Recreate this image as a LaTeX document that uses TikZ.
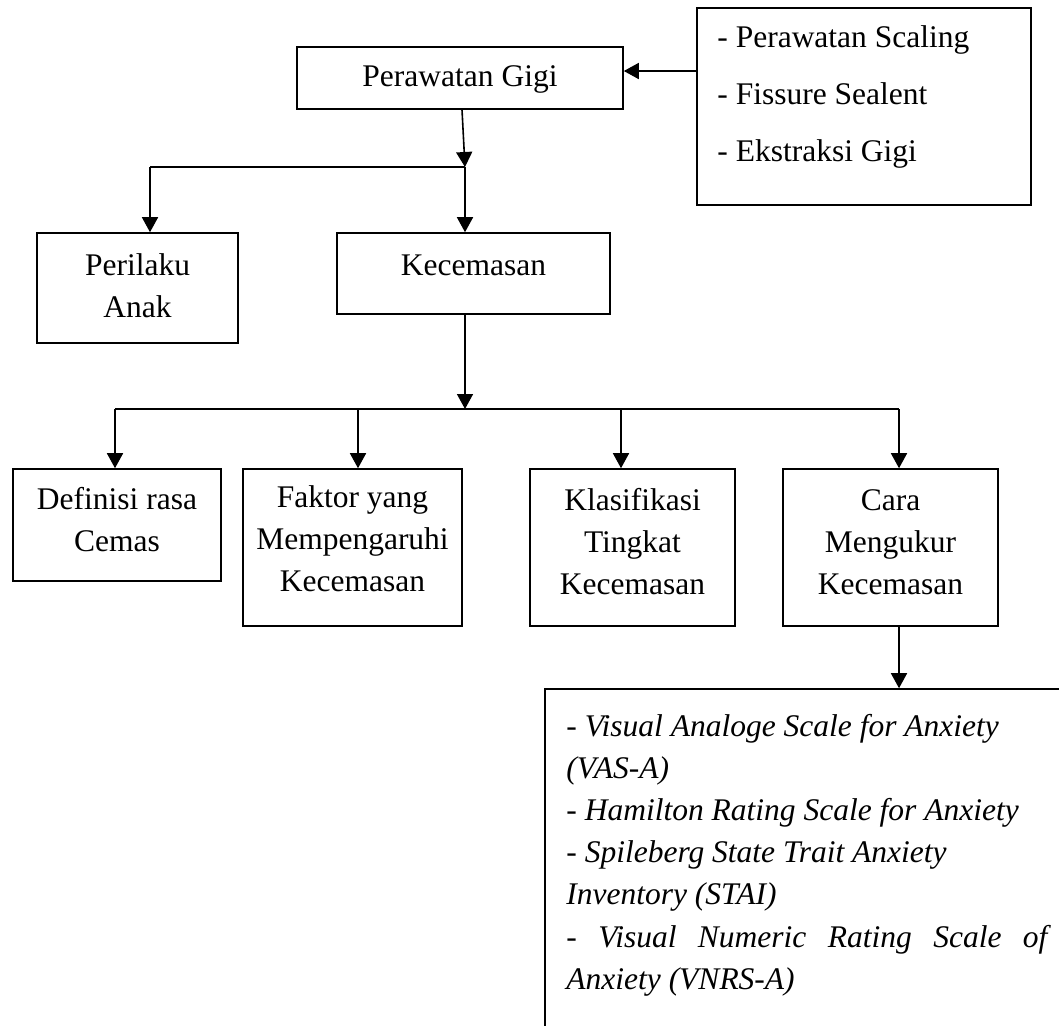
\documentclass[tikz,border=0pt]{standalone}
\usepackage{fontspec}
\setmainfont{Liberation Serif}
\usetikzlibrary{arrows.meta}

\tikzset{
  box/.style={draw, rectangle, line width=0.8pt, inner sep=0pt},
  txt/.style={align=center, inner sep=0pt, font=\fontsize{15.75}{21}\selectfont},
  ln/.style={line width=0.8pt},
  arr/.style={line width=0.8pt, -{Triangle[length=7.5pt,width=8pt]}}
}

\begin{document}
\begin{tikzpicture}[x=0.5pt, y=-0.5pt]

\clip (0,0) rectangle (1059,1025);

% boxes
\node[box, minimum width=167pt, minimum height=98.5pt] (tr) at (864,106.5) {};
\node[box, minimum width=163pt, minimum height=31pt] (pg) at (460,78) {};
\node[box, minimum width=100.5pt, minimum height=55pt] (perilaku) at (137.5,288) {};
\node[box, minimum width=136.5pt, minimum height=40.5pt] (kec) at (473.5,273.5) {};
\node[box, minimum width=104pt, minimum height=56pt] (def) at (117,525) {};
\node[box, minimum width=109.5pt, minimum height=78.5pt] (fak) at (352.5,547.5) {};
\node[box, minimum width=102.5pt, minimum height=78.5pt] (kla) at (632.5,547.5) {};
\node[box, minimum width=107.5pt, minimum height=78.5pt] (cara) at (890.5,547.5) {};
\node[box, minimum width=265pt, minimum height=178pt] (vnrs) at (810,867) {};

% texts
\node[txt, align=left, anchor=west, font=\fontsize{15.75}{28.5}\selectfont] (tr-t) at (717,97)
  {- Perawatan Scaling\\- Fissure Sealent\\- Ekstraksi Gigi};
\node[txt] (pg-t) at (460,79) {Perawatan Gigi};
\node[txt] (perilaku-t) at (137.5,286) {Perilaku\\Anak};
\node[txt] (kec-t) at (473.5,265) {Kecemasan};
\node[txt] (def-t) at (117,520) {Definisi rasa\\Cemas};
\node[txt] (fak-t) at (352.5,539) {Faktor yang\\Mempengaruhi\\Kecemasan};
\node[txt] (kla-t) at (632.5,542) {Klasifikasi\\Tingkat\\Kecemasan};
\node[txt] (cara-t) at (890.5,542) {Cara\\Mengukur\\Kecemasan};
\node[txt, align=left, anchor=west, font=\fontsize{15.75}{21.1}\selectfont\itshape] (vnrs-t) at (566,855)
  {- Visual Analoge Scale for Anxiety\\(VAS-A)\\- Hamilton Rating Scale for Anxiety\\- Spileberg State Trait Anxiety\\Inventory (STAI)\\\makebox[240.5pt][s]{- Visual Numeric Rating Scale of}\\Anxiety (VNRS-A)};

% connectors
\coordinate (trin) at (697,71);
\draw[arr] (trin) -- (trin -| pg.east);

\coordinate (j1) at (465,167);
\coordinate (j2) at (150,167);
\draw[arr] ([xshift=1pt]pg.south) -- (j1);
\draw[ln] (j1) -- (j2);
\draw[arr] (j2) -- (j2 |- perilaku.north);
\draw[arr] (j1) -- (j1 |- kec.north);

\coordinate (j3) at (465,409);
\draw[arr] (j3 |- kec.south) -- (j3);

\coordinate (b1) at (115,409);
\coordinate (b2) at (358,409);
\coordinate (b3) at (621,409);
\coordinate (b4) at (899,409);
\draw[ln] (b1) -- (b4);
\foreach \c/\n in {b1/def, b2/fak, b3/kla, b4/cara}
  \draw[arr] (\c) -- (\c |- \n.north);
\draw[arr] (b4 |- cara.south) -- (b4 |- vnrs.north);

\end{tikzpicture}
\end{document}
